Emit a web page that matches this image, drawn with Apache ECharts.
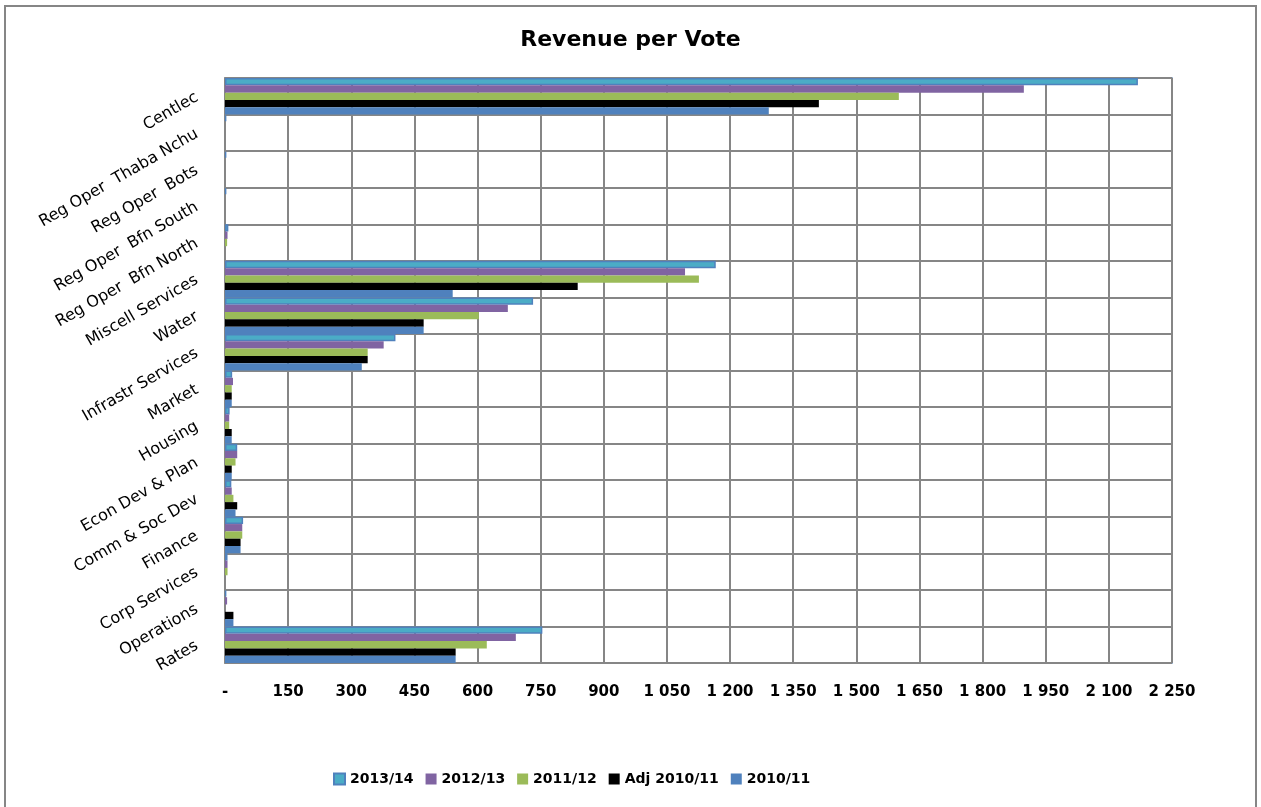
<!DOCTYPE html>
<html>
<head>
<meta charset="utf-8">
<title>Revenue per Vote</title>
<script src="https://cdn.jsdelivr.net/npm/echarts@6/dist/echarts.min.js"></script>
<style>
  html, body { margin: 0; padding: 0; background: #ffffff; }
  #chart { width: 1261px; height: 807px; }
</style>
</head>
<body>
<div id="chart"></div>
<script>
// Votes, listed bottom to top on the category axis
const categories = [
  'Rates', 'Operations', 'Corp Services', 'Finance', 'Comm & Soc Dev',
  'Econ Dev & Plan', 'Housing', 'Market', 'Infrastr Services', 'Water',
  'Miscell Services', 'Reg Oper  Bfn North', 'Reg Oper  Bfn South',
  'Reg Oper  Bots', 'Reg Oper  Thaba Nchu', 'Centlec'
];

// Revenue per vote (R million), same order as categories
const rev201011    = [548, 20, 0, 37, 25, 16, 16, 16, 325, 472, 541, 0, 0, 0, 0, 1292];
const revAdj201011 = [548, 20, 0, 37, 29, 16, 16, 16, 339, 472, 838, 0, 0, 0, 0, 1411];
const rev201112    = [622, 0, 6, 41, 20, 25, 10, 16, 339, 603, 1126, 5, 0, 0, 0, 1601];
const rev201213    = [691, 5, 6, 41, 16, 29, 10, 19, 377, 672, 1093, 6, 0, 0, 0, 1898];
const rev201314    = [754, 3, 6, 43, 15, 29, 11, 17, 405, 732, 1166, 8, 3, 3, 3, 2169];

// Value axis ticks
const axisMin = 0;
const axisMax = 2250;
const axisStep = 150;

const legendOrder = ['2013/14', '2012/13', '2011/12', 'Adj 2010/11', '2010/11'];

function formatTick(v) {
  if (v === 0) return '-';
  return String(v).replace(/\B(?=(\d{3})+(?!\d))/g, ' ');
}

const chart = echarts.init(document.getElementById('chart'), null, { renderer: 'canvas' });

const gridLine = { color: '#868686', width: 2 };

function barSeries(name, data, color, extra) {
  return Object.assign({
    name: name,
    type: 'bar',
    data: data,
    barGap: '0%',
    barCategoryGap: '0%',
    itemStyle: { color: color },
    emphasis: { disabled: true },
    animation: false
  }, extra || {});
}

chart.setOption({
  backgroundColor: '#ffffff',
  animation: false,
  title: {
    text: 'Revenue per Vote',
    left: 'center',
    top: 24,
    textStyle: {
      fontFamily: 'DejaVu Sans',
      fontWeight: 'bold',
      fontSize: 22,
      color: '#000000'
    }
  },
  legend: {
    data: legendOrder,
    left: 328,
    top: 767,
    itemWidth: 11,
    itemHeight: 11,
    itemGap: 12,
    icon: 'rect',
    textStyle: {
      fontFamily: 'DejaVu Sans',
      fontWeight: 'bold',
      fontSize: 14,
      color: '#000000'
    }
  },
  grid: {
    left: 225,
    right: 89,
    top: 78,
    bottom: 144,
    show: true,
    borderColor: '#5B87C2',
    borderWidth: 1.5,
    containLabel: false
  },
  xAxis: {
    type: 'value',
    min: axisMin,
    max: axisMax,
    interval: axisStep,
    axisLine: { show: false },
    axisTick: { show: false },
    splitLine: { show: true, lineStyle: gridLine },
    axisLabel: {
      formatter: formatTick,
      margin: 22,
      fontFamily: 'DejaVu Sans',
      fontWeight: 'bold',
      fontSize: 15,
      color: '#000000'
    }
  },
  yAxis: {
    type: 'category',
    data: categories,
    boundaryGap: true,
    axisLine: { show: true, lineStyle: { color: '#868686', width: 2 } },
    axisTick: { show: false },
    splitLine: { show: true, interval: 0, lineStyle: gridLine },
    axisLabel: {
      interval: 0,
      rotate: 30,
      margin: 28,
      fontFamily: 'DejaVu Sans',
      fontSize: 16,
      color: '#000000'
    }
  },
  // first series sits at the top of each category band
  series: [
    barSeries('2013/14', rev201314, '#4BACC6', {
      itemStyle: { color: '#4BACC6', borderColor: '#4F81BD', borderWidth: 1.5 }
    }),
    barSeries('2012/13', rev201213, '#8064A2'),
    barSeries('2011/12', rev201112, '#9BBB59'),
    barSeries('Adj 2010/11', revAdj201011, '#000000'),
    barSeries('2010/11', rev201011, '#4F81BD')
  ],
  graphic: [
    {
      type: 'rect',
      shape: { x: 5, y: 6, width: 1251, height: 820 },
      style: { fill: 'none', stroke: '#868686', lineWidth: 2 },
      silent: true,
      z: 100
    }
  ]
});
</script>
</body>
</html>
